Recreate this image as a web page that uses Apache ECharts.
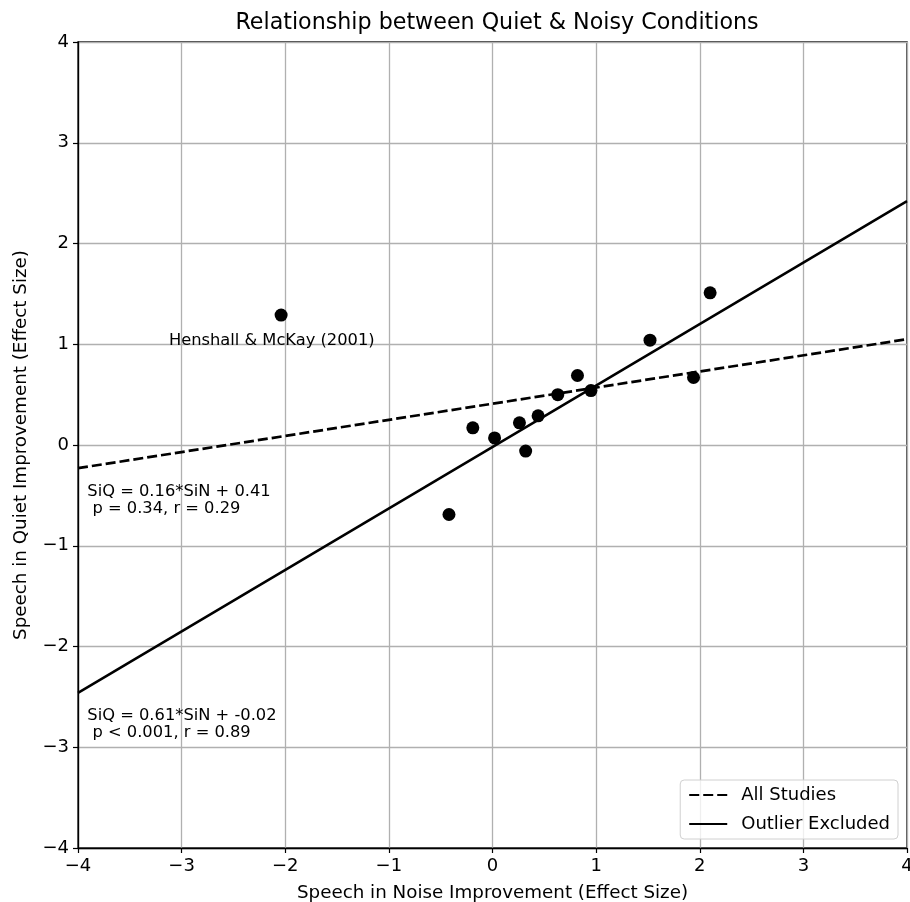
<!DOCTYPE html>
<html>
<head>
<meta charset="utf-8">
<script src="https://cdn.jsdelivr.net/npm/echarts@6/dist/echarts.min.js"></script>
<style>html,body{margin:0;padding:0;background:#fff;}#c{width:910px;height:902px;}</style>
</head>
<body>
<div id="c"></div>
<script>
// Study effect sizes: [Speech in Noise, Speech in Quiet]
const studyPoints = [
  [-2.04, 1.29],
  [-0.42, -0.69],
  [-0.19, 0.17],
  [0.02, 0.07],
  [0.26, 0.22],
  [0.32, -0.06],
  [0.44, 0.29],
  [0.63, 0.50],
  [0.82, 0.69],
  [0.95, 0.54],
  [1.52, 1.04],
  [1.94, 0.67],
  [2.10, 1.51]
];
// Regression line endpoints
const allStudiesLine = [[-4, -0.23], [4, 1.05]];
const outlierExcludedLine = [[-4, -2.46], [4, 2.42]];
const outlierLabel = [[-2.13, 1.03, 'Henshall & McKay (2001)']];
const statLabels = [
  [-3.91, -0.55, 'SiQ = 0.16*SiN + 0.41\n p = 0.34, r = 0.29'],
  [-3.91, -2.77, 'SiQ = 0.61*SiN + -0.02\n p < 0.001, r = 0.89']
];
const axisTicks = [-4, -3, -2, -1, 0, 1, 2, 3, 4];

const FONT = 'DejaVu Sans';
const minus = v => String(v).replace('-', '\u2212');
const chart = echarts.init(document.getElementById('c'), null, {renderer: 'canvas'});
chart.setOption({
  animation: false,
  backgroundColor: '#fff',
  textStyle: {fontFamily: FONT, color: '#000'},
  title: {
    text: 'Relationship between Quiet & Noisy Conditions',
    left: 492, top: 7, textAlign: 'center',
    textStyle: {fontFamily: FONT, fontSize: 22.2, fontWeight: 'normal', color: '#000'}
  },
  grid: {left: 78, right: 3, top: 42, bottom: 54, show: true, borderColor: '#000', borderWidth: 1.3,
    containLabel: false, outerBoundsMode: 'none'},
  xAxis: {
    type: 'value', min: axisTicks[0], max: axisTicks[axisTicks.length - 1], interval: 1,
    name: 'Speech in Noise Improvement (Effect Size)', nameLocation: 'middle', nameGap: 36,
    nameTextStyle: {fontFamily: FONT, fontSize: 18.3, color: '#000'},
    axisLine: {show: true, onZero: false, lineStyle: {color: '#000', width: 1.3}},
    axisTick: {show: true, length: 5, lineStyle: {color: '#000', width: 1.2}},
    axisLabel: {fontFamily: FONT, fontSize: 18, color: '#000', margin: 9, formatter: minus},
    splitLine: {show: true, lineStyle: {color: '#b0b0b0', width: 1.3}}
  },
  yAxis: {
    type: 'value', min: axisTicks[0], max: axisTicks[axisTicks.length - 1], interval: 1,
    name: 'Speech in Quiet Improvement (Effect Size)', nameLocation: 'middle', nameGap: 48,
    nameTextStyle: {fontFamily: FONT, fontSize: 18.3, color: '#000'},
    axisLine: {show: true, onZero: false, lineStyle: {color: '#000', width: 1.3}},
    axisTick: {show: true, length: 5, lineStyle: {color: '#000', width: 1.2}},
    axisLabel: {fontFamily: FONT, fontSize: 18, color: '#000', margin: 9, formatter: minus},
    splitLine: {show: true, lineStyle: {color: '#b0b0b0', width: 1.3}}
  },
  legend: {
    right: 12, bottom: 63, orient: 'vertical',
    data: ['All Studies', 'Outlier Excluded'],
    itemWidth: 38, itemHeight: 14, itemGap: 11,
    padding: [6, 8, 6, 8],
    borderColor: '#d0d0d0', borderWidth: 1, borderRadius: 4,
    backgroundColor: 'rgba(255,255,255,0.8)',
    itemStyle: {opacity: 0},
    textStyle: {fontFamily: FONT, fontSize: 18, color: '#000', padding: [0, 0, 0, 9]}
  },
  series: [
    {
      name: 'All Studies', type: 'line', data: allStudiesLine, symbol: 'none',
      lineStyle: {color: '#000', width: 2.7, type: [10, 4]}, itemStyle: {color: '#000'}, z: 3
    },
    {
      name: 'Outlier Excluded', type: 'line', data: outlierExcludedLine, symbol: 'none',
      lineStyle: {color: '#000', width: 2.5, type: 'solid'}, itemStyle: {color: '#000'}, z: 3
    },
    {
      name: 'Studies', type: 'scatter', data: studyPoints, symbolSize: 13,
      itemStyle: {color: '#000', opacity: 1}, z: 4
    },
    {
      name: 'outlierLabel', type: 'scatter', data: outlierLabel, symbolSize: 0,
      itemStyle: {color: '#000', opacity: 1},
      label: {show: true, position: [0, 0], formatter: p => p.data[2], opacity: 1,
        fontFamily: FONT, fontSize: 16.3, color: '#000', align: 'center', verticalAlign: 'middle'},
      z: 5
    },
    {
      name: 'statLabels', type: 'scatter', data: statLabels, symbolSize: 0,
      itemStyle: {color: '#000', opacity: 1},
      label: {show: true, position: [0, 0], formatter: p => p.data[2], opacity: 1,
        fontFamily: FONT, fontSize: 16.3, lineHeight: 17, color: '#000', align: 'left', verticalAlign: 'middle'},
      z: 5
    }
  ]
});
</script>
</body>
</html>
